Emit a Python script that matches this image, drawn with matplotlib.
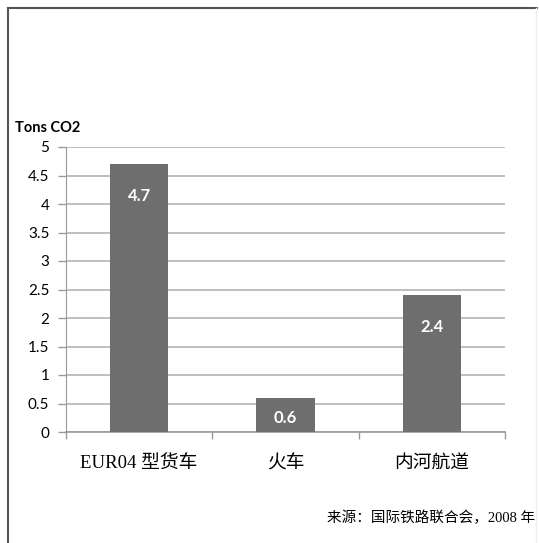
import numpy as np
import matplotlib.pyplot as plt
from matplotlib.lines import Line2D

categories = ["EUR04 型货车", "火车", "内河航道"]
values = [4.7, 0.6, 2.4]
yticks = [0, 0.5, 1, 1.5, 2, 2.5, 3, 3.5, 4, 4.5, 5]
ytick_labels = ["0", "0.5", "1", "1.5", "2", "2.5", "3", "3.5", "4", "4.5", "5"]
source = "来源：国际铁路联合会，2008 年"

serif_cjk = ["Liberation Serif", "Noto Sans CJK SC"]

fig = plt.figure(figsize=(5.39, 5.43), dpi=100)
ax = fig.add_axes([66/539, 1-432/543, (505-66)/539, (432-147)/543])

x = np.arange(len(categories))
ax.bar(x, values, width=0.4, color="#6e6e6e", zorder=3)
# value labels inside the bars, a bit below the top
pts_per_unit = (432-147)/5 * 0.72
for xi, v in zip(x, values):
    off = min(23, v * pts_per_unit * 0.6)
    ax.annotate("%.1f" % v, (xi, v), xytext=(0, -off), textcoords="offset points",
                ha="center", va="center", color="white", fontsize=12,
                fontweight="bold", family="Lato", zorder=5)

ax.set_xlim(-0.5, len(categories) - 0.5)
ax.set_ylim(0, 5)
ax.set_yticks(yticks)
ax.set_yticklabels(ytick_labels, family="Lato", fontsize=11)
ax.yaxis.grid(True, color="#b4b4b4", linewidth=1.2, zorder=0)
ax.tick_params(axis="y", length=6, color="#999999", width=1, pad=6)

ax.set_xticks(np.arange(len(categories) + 1) - 0.5)
ax.set_xticks(x, minor=True)
ax.set_xticklabels([])
ax.set_xticklabels(categories, minor=True, family=serif_cjk, fontsize=13.5)
ax.tick_params(axis="x", which="major", length=5, color="#999999", width=1)
ax.tick_params(axis="x", which="minor", length=0, pad=17)

for s in ["top", "right"]:
    ax.spines[s].set_visible(False)
ax.spines["left"].set_color("#999999")
ax.spines["bottom"].set_color("#999999")
ax.spines["bottom"].set_linewidth(1.2)

fig.text(15/539, 1-128/543, "Tons CO2", family="Lato", fontweight="bold",
         fontsize=10.5, va="center", ha="left")
fig.text(535/539, 1-518/543, source, family=serif_cjk, fontsize=10.5,
         ha="right", va="center")

# frame around the picture
fig.add_artist(Line2D([8/539, 8/539], [0, 1-8/543], color="#555555", linewidth=1.5))
fig.add_artist(Line2D([8/539, 537/539], [1-8/543, 1-8/543], color="#555555", linewidth=1.5))
fig.add_artist(Line2D([536/539, 536/539], [0, 1-8/543], color="#eeeeee", linewidth=1))

plt.savefig("out.png", dpi=100)
